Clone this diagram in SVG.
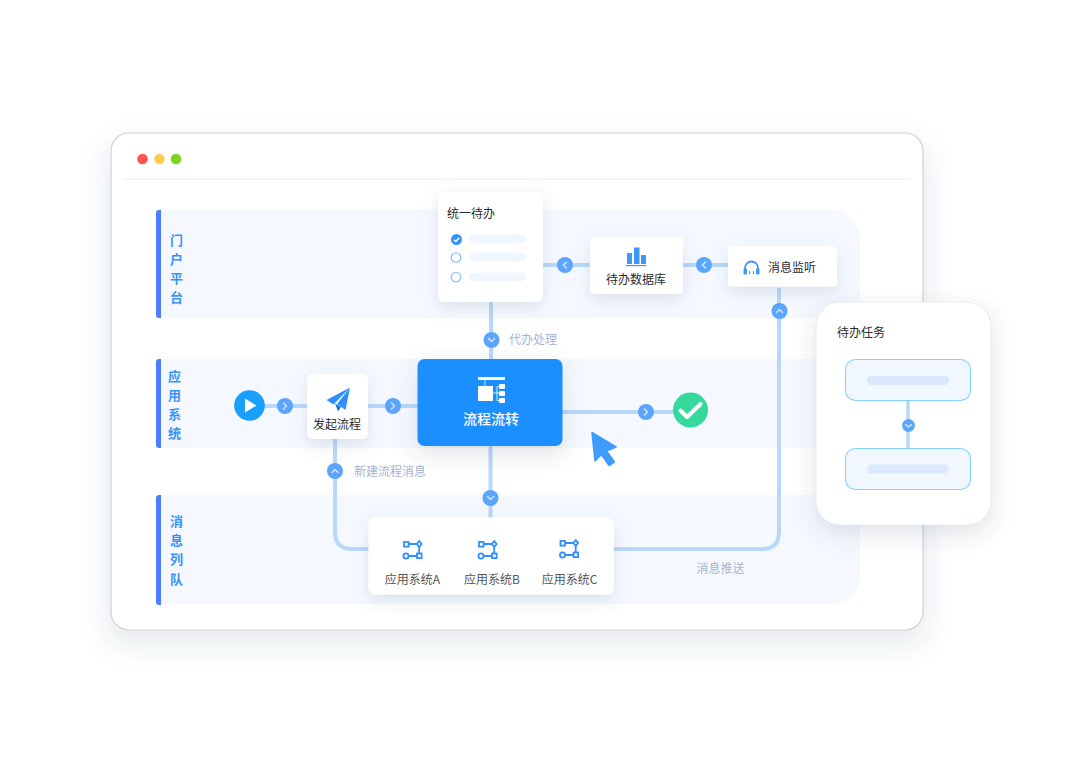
<svg xmlns="http://www.w3.org/2000/svg" width="1080" height="762" viewBox="0 0 1080 762">
<style>
text{font-family:"Noto Sans CJK SC","Noto Sans",sans-serif}
.band{fill:#f5f9ff}
.bar{fill:#4a7dff}
.lane{font-size:13px;font-weight:700;fill:#3593fb;text-anchor:middle}
.card{fill:#fff;filter:url(#sh)}
.t{font-size:12px;fill:#2b2b2b;text-anchor:middle}
.g{font-size:12px;fill:#a3b4d3}
.s{font-size:12px;fill:#555;text-anchor:middle}
.ln{fill:none;stroke:#b8d8fb;stroke-width:4}
.dot{fill:#5ba5fc}
.ch{fill:none;stroke:#cfe4fe;stroke-width:1.500;stroke-linecap:round;stroke-linejoin:round}
.pill{fill:#f0f6fe}
.ic{fill:#2f8fff}
.sys{fill:none;stroke:#2f8fff;stroke-width:1.800}
.sub{fill:#f0f7fe;stroke:#84d0ff;stroke-width:1.100}
.subp{fill:#dce9fc}
</style>
<defs>
<filter id="win" x="-15%" y="-15%" width="130%" height="130%"><feDropShadow dx="0" dy="12" stdDeviation="14" flood-color="#3a4a6a" flood-opacity=".13"/></filter>
<filter id="sh" x="-40%" y="-40%" width="180%" height="190%"><feDropShadow dx="0" dy="6" stdDeviation="8" flood-color="#55688c" flood-opacity=".17"/></filter>
<filter id="big" x="-30%" y="-30%" width="160%" height="160%"><feDropShadow dx="0" dy="8" stdDeviation="11" flood-color="#3a4a6a" flood-opacity=".16"/></filter>
<g id="right"><circle class="dot" r="8"/><path class="ch" d="M-1.500-3 1.500 0-1.500 3"/></g>
<g id="left"><circle class="dot" r="8"/><path class="ch" d="M1.500-3-1.500 0 1.500 3"/></g>
<g id="up"><circle class="dot" r="8"/><path class="ch" d="M-3 1.500 0-1.500 3 1.500"/></g>
<g id="down"><circle class="dot" r="8"/><path class="ch" d="M-3-1.500 0 1.500 3-1.500"/></g>
<g id="sysic"><rect class="sys" x="-8" y="-7.500" width="4.600" height="4.600"/><rect class="sys" x="5" y="4" width="4.600" height="4.600"/><circle class="sys" cx="-6" cy="6.500" r="2.600"/><path class="sys" d="M7.200-8.300 9.600-5.500 7.200-2.700 4.800-5.500Z"/><path class="sys" d="M-3.400-5.500H4.800M7.200-2.700V4M-3.400 6.500H5"/></g>
</defs>

<g id="window">
<rect x="111" y="133" width="812" height="497" rx="18" fill="#fff" stroke="#cfd1d9" stroke-width="1.200" filter="url(#win)"/>
<circle cx="142.500" cy="159" r="5.300" fill="#ff5552"/>
<circle cx="159.500" cy="159" r="5.300" fill="#ffce4f"/>
<circle cx="176" cy="159" r="5.300" fill="#7ed321"/>
<rect x="123" y="178.500" width="787" height="1.200" fill="#eeeff5"/>
</g>

<g id="lanes">
<path class="band" d="M159 210H832A28 28 0 0 1 860 238V318H159Z"/>
<rect class="band" x="159" y="359" width="701" height="89"/>
<path class="band" d="M159 495H860V576A28 28 0 0 1 832 604H159Z"/>
<path class="bar" d="M161 210V318H159Q156 318 156 315V213Q156 210 159 210Z"/>
<path class="bar" d="M161 359V448H159Q156 448 156 445V362Q156 359 159 359Z"/>
<path class="bar" d="M161 495V605H159Q156 605 156 602V498Q156 495 159 495Z"/>
<g class="lane">
<text x="176.500" y="245">门</text><text x="176.500" y="264">户</text><text x="176.500" y="283">平</text><text x="176.500" y="302">台</text>
<text x="174.500" y="381">应</text><text x="174.500" y="400">用</text><text x="174.500" y="419">系</text><text x="174.500" y="438">统</text>
<text x="176.500" y="526">消</text><text x="176.500" y="545">息</text><text x="176.500" y="564">列</text><text x="176.500" y="584">队</text>
</g>
</g>

<g id="connectors">
<path class="ln" d="M491 300V360"/>
<path class="ln" d="M543 265H590"/>
<path class="ln" d="M683 265H728"/>
<path class="ln" d="M779 288V532Q779 549 762 549H612"/>
<path class="ln" d="M264 406H308"/>
<path class="ln" d="M368 406H418"/>
<path class="ln" d="M562 412H676"/>
<path class="ln" d="M490.500 445V518"/>
<path class="ln" d="M335 438V532Q335 549 352 549H370"/>
<use href="#left" x="565" y="265"/>
<use href="#left" x="704" y="265"/>
<use href="#up" x="779.500" y="311"/>
<use href="#down" x="491.500" y="340"/>
<use href="#right" x="285" y="406"/>
<use href="#right" x="393" y="406"/>
<use href="#right" x="646" y="412"/>
<use href="#up" x="335" y="471"/>
<use href="#down" x="490.500" y="498"/>
</g>

<text class="g" x="509" y="343.500">代办处理</text>
<text class="g" x="354" y="476">新建流程消息</text>
<text class="g" x="696.500" y="573">消息推送</text>

<g id="todo">
<rect class="card" x="438" y="192" width="105" height="110" rx="6"/>
<text x="447" y="218" font-size="12" fill="#2b2b2b">统一待办</text>
<circle cx="456.500" cy="239.500" r="5.500" fill="#3593fb"/>
<path d="M453.800 239.700 455.800 241.500 459.200 237.800" fill="none" stroke="#fff" stroke-width="1.500"/>
<circle cx="456" cy="257.500" r="4.800" fill="#fff" stroke="#7cb9fb" stroke-width="1.100"/>
<circle cx="456" cy="277" r="4.800" fill="#fff" stroke="#7cb9fb" stroke-width="1.100"/>
<rect class="pill" x="469" y="234.500" width="57" height="9" rx="4.500"/>
<rect class="pill" x="469" y="252.500" width="57" height="9" rx="4.500"/>
<rect class="pill" x="469" y="272.500" width="57" height="9" rx="4.500"/>
</g>

<g id="db">
<rect class="card" x="590" y="237" width="93" height="57" rx="4"/>
<g fill="#3c99fc"><rect x="627" y="253" width="5" height="11"/><rect x="634" y="247.500" width="5.500" height="16.500"/><rect x="641" y="255" width="5" height="9"/><rect x="626" y="265" width="20.500" height="1.200"/></g>
<text class="t" x="636" y="284">待办数据库</text>
</g>

<g id="listen">
<rect class="card" x="728" y="246" width="109" height="40.500" rx="4"/>
<path d="M745 270V268A6.500 6.500 0 0 1 758 268V270" fill="none" stroke="#3c99fc" stroke-width="1.800"/>
<rect x="743.500" y="268.500" width="3.500" height="6" rx="1" fill="#3c99fc"/><rect x="749" y="271" width="1.200" height="3" fill="#3c99fc"/><rect x="752.800" y="271" width="1.200" height="3" fill="#3c99fc"/><rect x="756" y="268.500" width="3.500" height="6" rx="1" fill="#3c99fc"/>
<text x="768" y="272" font-size="12" fill="#2b2b2b">消息监听</text>
</g>

<g id="start">
<circle cx="249.500" cy="405.500" r="15.300" fill="#1a9fff"/>
<path d="M245 398.500 256.500 405.500 245 412.500Z" fill="#fff"/>
</g>

<g id="launch">
<rect class="card" x="307" y="374" width="61" height="65" rx="6"/>
<path d="M350 387.500 326.500 400 333.500 404.500Z" fill="#2f8fff"/>
<path d="M350 387.500 337 404 345.500 410Z" fill="#2f8fff"/>
<path d="M335 403.500 338 411.500 341 407Z" fill="#1d74dd"/>
<text class="t" x="337" y="429">发起流程</text>
</g>

<g id="flow">
<rect x="417.500" y="359" width="145" height="87" rx="7" fill="#1e8fff" filter="url(#big)"/>
<g fill="#fff">
<rect x="478" y="377" width="27" height="3"/>
<rect x="478" y="386" width="15" height="15"/>
<rect x="499" y="384" width="6" height="5" rx="1"/>
<rect x="499" y="391" width="6" height="5" rx="1"/>
<rect x="499" y="398" width="6" height="5" rx="1"/>
<path d="M485 380V386M493 393H499M497 386.500V400.500H499M497 386.500H499" stroke="#fff" stroke-width=".8" fill="none"/>
</g>
<text x="491" y="424" font-size="14" font-weight="500" fill="#fff" text-anchor="middle">流程流转</text>
</g>

<g id="done">
<circle cx="690.500" cy="410" r="17.500" fill="#36d99c"/>
<path d="M680.500 410.500 687 417 700.500 404" fill="none" stroke="#fff" stroke-width="4" stroke-linecap="round" stroke-linejoin="round"/>
</g>

<path id="cursor" d="M592 432.500 616 447 606.500 451 614.500 462 609 465.500 601.500 454.500 595 461Z" fill="#3f9bfc" stroke="#3f9bfc" stroke-width="1.500" stroke-linejoin="round"/>

<g id="systems">
<rect class="card" x="368.500" y="517.500" width="245.500" height="77" rx="7"/>
<use href="#sysic" x="412" y="549.500"/>
<use href="#sysic" x="487" y="549.500"/>
<use href="#sysic" x="568.500" y="548.500"/>
<text class="s" x="412.500" y="584">应用系统A</text>
<text class="s" x="492" y="584">应用系统B</text>
<text class="s" x="569.500" y="584">应用系统C</text>
</g>

<g id="task">
<rect x="816" y="302" width="175" height="223" rx="24" fill="#fff" stroke="#e3e4e8" stroke-width=".8" filter="url(#big)"/>
<text x="837" y="337" font-size="12" fill="#2b2b2b">待办任务</text>
<path d="M908 401V449" fill="none" stroke="#b8d8fb" stroke-width="3.500"/>
<rect class="sub" x="845.500" y="359.500" width="125" height="41" rx="10"/>
<rect class="subp" x="867" y="376" width="82" height="9" rx="4.500"/>
<rect class="sub" x="845.500" y="448.500" width="125" height="41" rx="10"/>
<rect class="subp" x="867" y="464.500" width="82" height="9" rx="4.500"/>
<circle class="dot" cx="908.500" cy="425.500" r="6.500"/>
<path class="ch" d="M905.500 424.500 908.500 427 911.500 424.500"/>
</g>
</svg>
